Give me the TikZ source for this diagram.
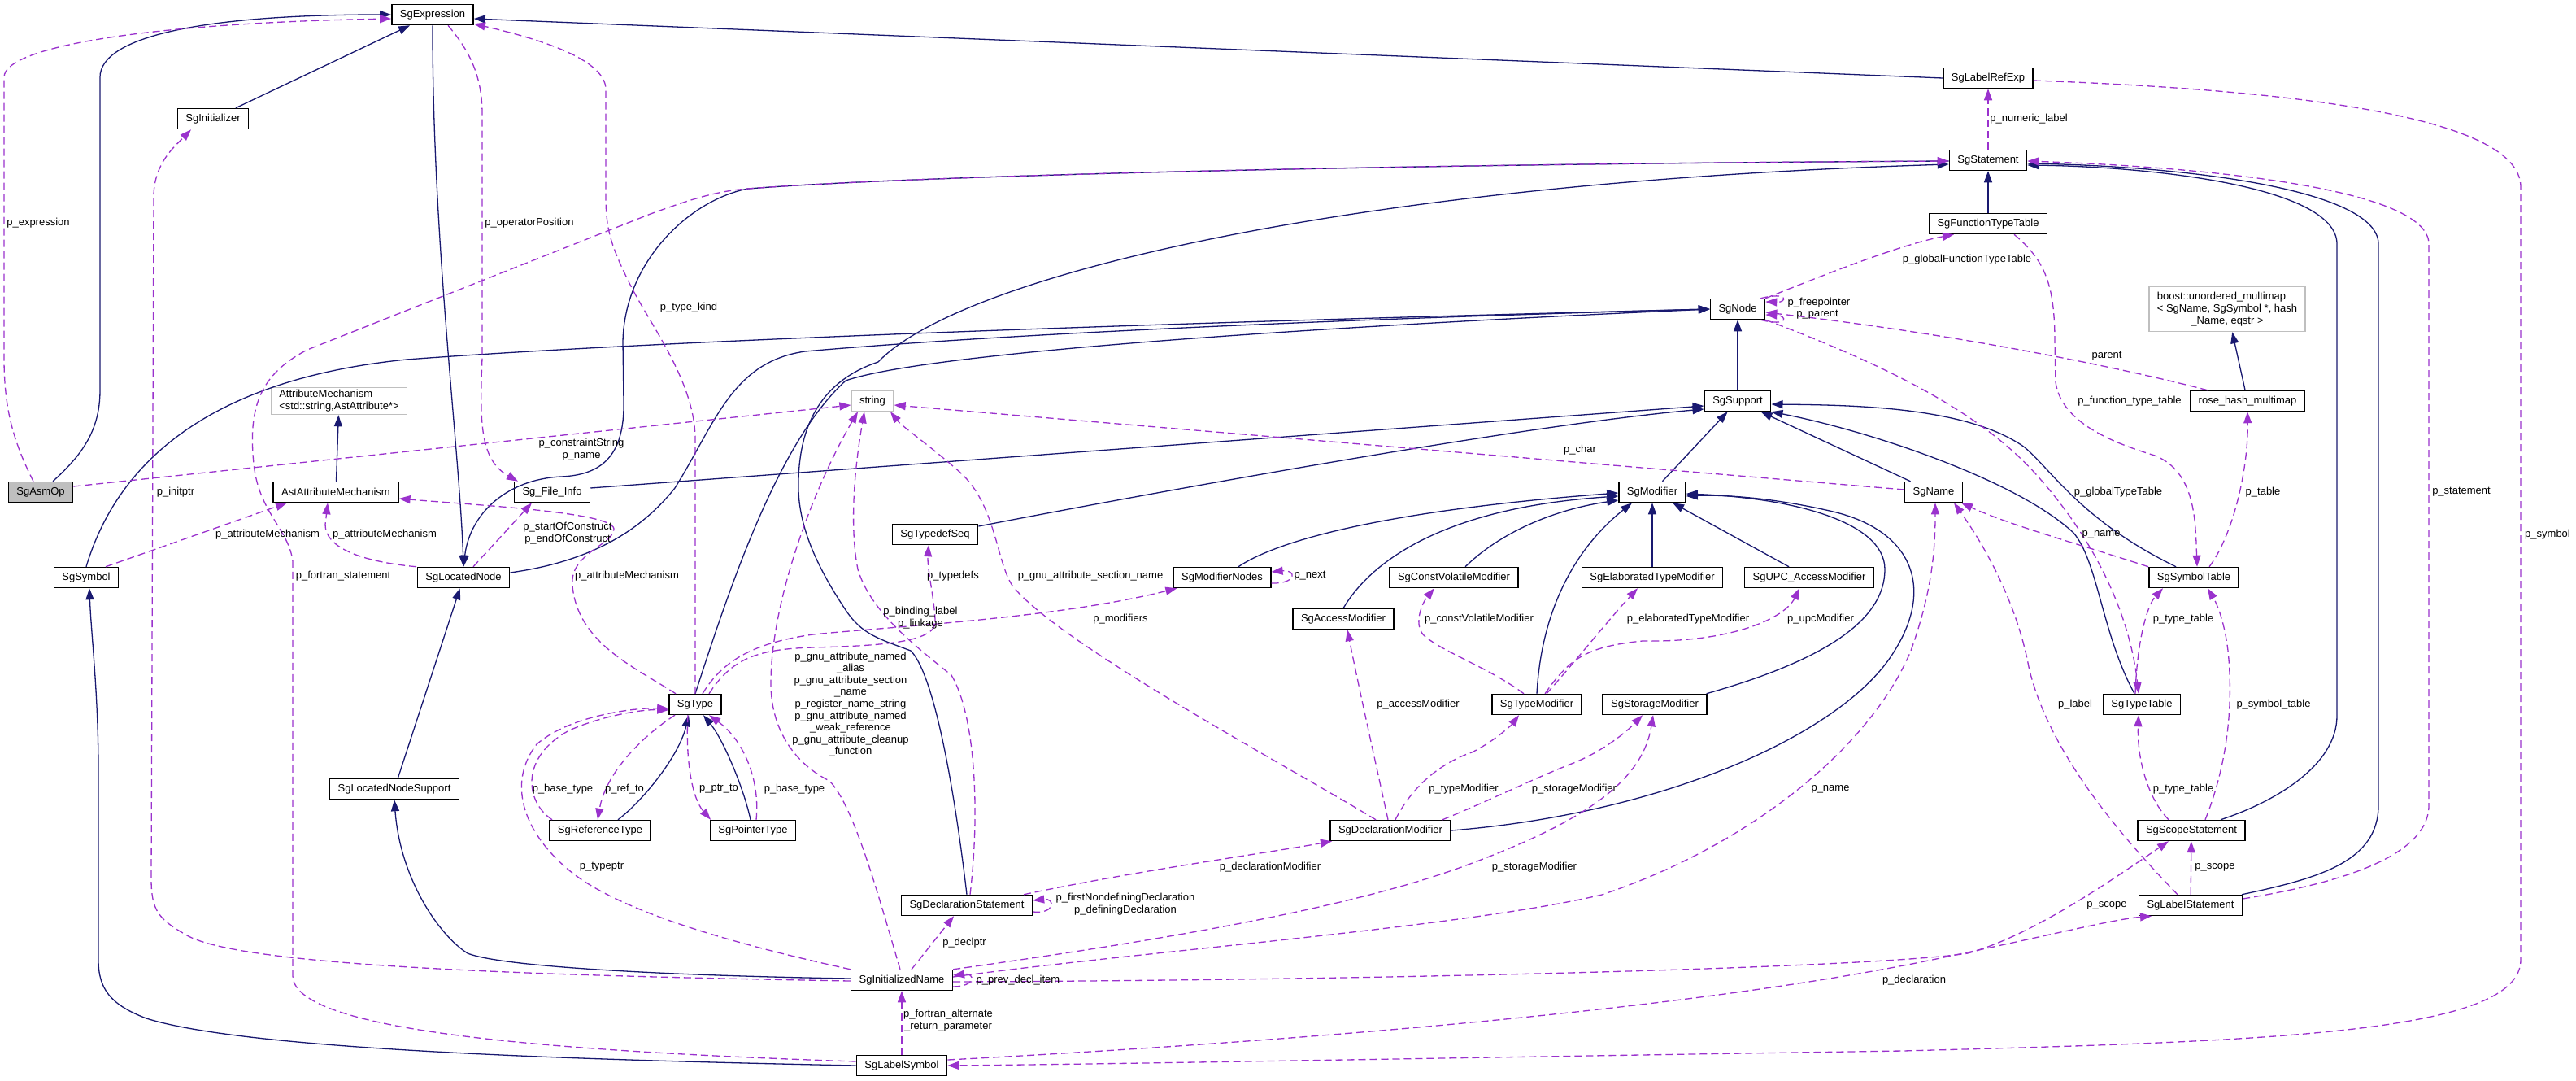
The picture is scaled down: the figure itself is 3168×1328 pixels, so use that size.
\documentclass[tikz,border=0pt]{standalone}
\usepackage{fontspec}
\setmainfont{Liberation Sans}
\definecolor{inhblue}{HTML}{191970}
\definecolor{usepurple}{HTML}{9A32CD}
\definecolor{extgrey}{HTML}{BFBFBF}
\usepackage{tikz}
\usetikzlibrary{
  arrows.meta,
}

\begin{document}
\begin{tikzpicture}[
  x=1pt, y=-1pt,
  box/.style={
    draw=black, line width=1.5pt, fill=white, minimum height=25pt,
    inner xsep=10pt, inner ysep=3pt, font=\fontsize{13}{15}\selectfont,
  },
  extbox/.style={
    box, draw=extgrey,
  },
  arrow/.style={
    -{Triangle[length=14pt,width=10pt]}, line width=1.3pt, color=inhblue,
  },
  userarrow/.style={
    -{Triangle[length=14pt,width=10pt]}, line width=1.3pt, color=usepurple,
    dash pattern=on 9pt off 5pt,
  },
  lbl/.style={
    font=\fontsize{13}{15}\selectfont, inner sep=0pt, align=center,
  },
]
  \path[use as bounding box, fill=white] (0,0) rectangle (3168,1328);

  % Top rows
  \node[box] (expr) at (532,18) {SgExpression};
  \node[box] (initer) at (262,146) {SgInitializer};
  \node[box] (labelref) at (2445,96) {SgLabelRefExp};
  \node[box] (stmt) at (2445,197) {SgStatement};
  \node[box] (fntable) at (2445,275) {SgFunctionTypeTable};
  \node[box] (sgnode) at (2137,380) {SgNode};
  \node[extbox, inner ysep=5pt] (boostmap) at (2739,380)
    {\begin{tabular}{@{}l@{}}boost::unordered\_multimap\\< SgName, SgSymbol *, hash\\\multicolumn{1}{@{}c@{}}{\_Name, eqstr >}\end{tabular}};
  \node[box] (rosehash) at (2764,493) {rose\_hash\_multimap};
  \node[box] (support) at (2137,493) {SgSupport};
  \node[extbox] (str) at (1073,493) {string};
  \node[extbox, align=left] (attrmech) at (417,493)
    {AttributeMechanism\\<std::string,AstAttribute*>};

  % Middle rows
  \node[box, fill=extgrey] (asmop) at (50,605) {SgAsmOp};
  \node[box] (astattr) at (413,605) {AstAttributeMechanism};
  \node[box] (fileinfo) at (679,605) {Sg\_File\_Info};
  \node[box] (sgname) at (2378,605) {SgName};
  \node[box] (modifier) at (2032,605) {SgModifier};
  \node[box] (typedefseq) at (1150,657) {SgTypedefSeq};
  \node[box] (symbol) at (106,710) {SgSymbol};
  \node[box] (locnode) at (570,710) {SgLocatedNode};
  \node[box] (modnodes) at (1503,710) {SgModifierNodes};
  \node[box] (cvmod) at (1788,710) {SgConstVolatileModifier};
  \node[box] (elabmod) at (2032,710) {SgElaboratedTypeModifier};
  \node[box] (upcmod) at (2225,710) {SgUPC\_AccessModifier};
  \node[box] (symtable) at (2698,710) {SgSymbolTable};
  \node[box] (accmod) at (1652,761) {SgAccessModifier};
  \node[box] (sgtype) at (855,866) {SgType};
  \node[box] (typemod) at (1890,866) {SgTypeModifier};
  \node[box] (stormod) at (2035,866) {SgStorageModifier};
  \node[box] (typetable) at (2634,866) {SgTypeTable};

  % Bottom rows
  \node[box] (locsupport) at (485,970) {SgLocatedNodeSupport};
  \node[box] (reftype) at (738,1021) {SgReferenceType};
  \node[box] (ptrtype) at (926,1021) {SgPointerType};
  \node[box] (declmod) at (1710,1021) {SgDeclarationModifier};
  \node[box] (scopestmt) at (2695,1021) {SgScopeStatement};
  \node[box] (declstmt) at (1189,1113) {SgDeclarationStatement};
  \node[box] (labelstmt) at (2694,1113) {SgLabelStatement};
  \node[box] (initname) at (1109,1205) {SgInitializedName};
  \node[box] (labelsym) at (1109,1310) {SgLabelSymbol};

  % Inheritance
  \draw[arrow] ([xshift=15pt]asmop.north) .. controls (100,560) and (123,530) .. (123,480)
    -- (123,95) .. controls (123,45) and (250,18) .. (expr.west);
  \draw[arrow] (initer) -- (expr);
  \draw[arrow] (labelref.west) -- ([yshift=-5pt]expr.east);
  \draw[arrow] (expr.south) .. controls (532,300) and (565,550) .. (locnode.north);
  \draw[arrow] ([yshift=-1pt]stmt.west) .. controls (1800,201) and (1150,214) .. (920,232)
    .. controls (850,245) and (768,320) .. (766,420) -- (767,495)
    .. controls (768,560) and (740,584) .. (690,586)
    .. controls (625,589) and (578,630) .. (locnode.north);
  \draw[arrow] (symbol.north) .. controls (135,600) and (220,470) .. (500,442)
    .. controls (900,412) and (1700,390) .. (sgnode.west);
  \draw[arrow] ([yshift=6pt]locnode.east) .. controls (730,690) and (790,650) .. (830,600)
    .. controls (880,520) and (900,445) .. (990,432)
    .. controls (1300,405) and (1800,388) .. (sgnode.west);
  \draw[arrow] (sgtype.north) .. controls (895,730) and (955,545) .. (1040,468)
    .. controls (1150,430) and (1700,398) .. (sgnode.west);
  \draw[arrow] (support) -- (sgnode);
  \draw[arrow] ([yshift=5pt]fileinfo.east) -- ([yshift=-6pt]support.west);
  \draw[arrow] ([yshift=10pt]typedefseq.east) .. controls (1500,590) and (1900,520) .. ([yshift=-10pt]support.west);
  \draw[arrow] (modifier) -- (support);
  \draw[arrow] (sgname) -- (support);
  \draw[arrow] ([xshift=-22pt]symtable.north) .. controls (2560,640) and (2525,580) .. (2490,550)
    .. controls (2420,500) and (2280,498) .. ([yshift=-4pt]support.east);
  \draw[arrow] ([xshift=-9pt]typetable.north) .. controls (2585,780) and (2580,690) .. (2550,655)
    .. controls (2480,590) and (2300,530) .. (support.south east);
  \draw[arrow] (fntable) -- (stmt);
  \draw[arrow] (declstmt.north) .. controls (1175,980) and (1150,830) .. (1120,800)
    .. controls (1080,785) and (1060,780) .. (1040,750)
    .. controls (1000,690) and (980,640) .. (982,590)
    .. controls (984,510) and (1020,465) .. (1080,445)
    .. controls (1180,340) and (1650,225) .. ([yshift=-5pt]stmt.west);
  \draw[arrow] ([xshift=20pt]modnodes.north) .. controls (1570,665) and (1700,628) .. ([yshift=-1pt]modifier.west);
  \draw[arrow] (accmod.north) .. controls (1680,700) and (1760,625) .. ([yshift=-5pt]modifier.west);
  \draw[arrow] ([xshift=14pt]cvmod.north) .. controls (1850,650) and (1920,625) .. ([yshift=-10pt]modifier.west);
  \draw[arrow] (typemod.north) .. controls (1895,760) and (1930,680) .. ([xshift=-25pt]modifier.south);
  \draw[arrow] (elabmod) -- (modifier);
  \draw[arrow] ([xshift=-25pt]upcmod.north) -- ([xshift=25pt]modifier.south);
  \draw[arrow] ([xshift=-1pt]stormod.north east) .. controls (2250,810) and (2318,760) .. (2318,700)
    .. controls (2318,640) and (2200,612) .. ([yshift=-2pt]modifier.east);
  \draw[arrow] (declmod.east) .. controls (2050,1000) and (2270,900) .. (2330,800)
    .. controls (2380,720) and (2350,650) .. (2250,628)
    .. controls (2180,612) and (2120,608) .. ([yshift=-5pt]modifier.east);
  \draw[arrow] ([xshift=36pt]scopestmt.north) .. controls (2800,985) and (2874,940) .. (2874,880)
    -- (2874,300) .. controls (2874,230) and (2650,205) .. ([yshift=-6pt]stmt.east);
  \draw[arrow] ([xshift=63pt]labelstmt.north) .. controls (2850,1080) and (2925,1060) .. (2925,990)
    -- (2925,300) .. controls (2925,235) and (2700,205) .. ([yshift=-4pt]stmt.east);
  \draw[arrow] (astattr) -- (attrmech);
  \draw[arrow] (rosehash) -- (boostmap);
  \draw[arrow] (locsupport) -- (locnode);
  \draw[arrow] ([yshift=2pt]initname.west) .. controls (850,1200) and (620,1190) .. (575,1172)
    .. controls (540,1150) and (492,1080) .. (locsupport.south);
  \draw[arrow] (labelsym.west) .. controls (700,1303) and (300,1290) .. (180,1252)
    .. controls (135,1235) and (121,1215) .. (121,1180) -- (121,950)
    .. controls (121,850) and (112,780) .. ([xshift=4pt]symbol.south);
  \draw[arrow] ([xshift=22pt]reftype.north) .. controls (790,985) and (835,930) .. ([xshift=-8pt]sgtype.south);
  \draw[arrow] ([xshift=-3pt]ptrtype.north) .. controls (915,970) and (890,910) .. ([xshift=10pt]sgtype.south);

  % Usage
  \draw[userarrow] ([xshift=-9pt]asmop.north) .. controls (15,540) and (5,500) .. (5,440)
    -- (5,95) .. controls (5,55) and (200,28) .. ([yshift=-5pt]expr.west);
  \draw[userarrow] ([xshift=19pt]expr.south) .. controls (575,60) and (593,90) .. (593,140)
    -- (593,440) .. controls (590,520) and (590,565) .. ([xshift=-42pt]fileinfo.north);
  \draw[userarrow] (sgtype.north) -- (855,540) .. controls (855,470) and (800,400) .. (775,350)
    .. controls (750,300) and (745,280) .. (745,240) -- (745,110)
    .. controls (745,70) and (650,45) .. ([yshift=2pt]expr.south east);
  \draw[userarrow] ([yshift=7pt]asmop.east) -- ([yshift=-5pt]str.west);
  \draw[userarrow] ([xshift=12pt]locnode.north) -- ([xshift=-25pt]fileinfo.south);
  \draw[userarrow] ([xshift=24pt]symbol.north) -- ([xshift=-60pt]astattr.south);
  \draw[userarrow] ([xshift=-58pt]locnode.north) .. controls (440,690) and (400,672) .. (400,645)
    -- ([xshift=-10pt]astattr.south);
  \draw[userarrow] ([xshift=-24pt]sgtype.north) .. controls (780,820) and (710,790) .. (704,720)
    .. controls (700,680) and (755,670) .. (755,650)
    .. controls (752,630) and (600,622) .. ([yshift=-8pt]astattr.east);
  \draw[userarrow] ([yshift=-1pt]initname.west) .. controls (700,1200) and (300,1190) .. (230,1150)
    .. controls (195,1130) and (186,1120) .. (186,1080) -- (189,240)
    .. controls (190,200) and (215,180) .. ([xshift=-27pt]initer.south);
  \draw[userarrow] ([yshift=5pt]labelsym.west) .. controls (600,1290) and (362,1260) .. (360,1200)
    -- (360,690) .. controls (355,650) and (318,630) .. (312,570)
    .. controls (305,500) and (320,460) .. (378,430) -- (800,263)
    .. controls (850,245) and (880,235) .. (920,232)
    .. controls (1150,214) and (1800,201) .. ([yshift=-1pt]stmt.west);
  \draw[userarrow] ([yshift=-3pt]labelref.east) .. controls (2800,110) and (3100,140) .. (3100,230)
    -- (3100,1180) .. controls (3100,1270) and (2800,1280) .. (2340,1292)
    .. controls (1800,1300) and (1400,1308) .. (labelsym.east);
  \draw[userarrow] (stmt) -- (labelref);
  \draw[userarrow] (sgnode.north east) .. controls (2250,335) and (2340,300) .. ([xshift=-42pt]fntable.south);
  \draw[userarrow] ([xshift=-6pt]sgnode.north east) .. controls (2200,358) and (2198,372) .. ([yshift=9pt]sgnode.east);
  \draw[userarrow] ([xshift=-6pt]sgnode.south east) .. controls (2200,402) and (2198,388) .. ([yshift=-7pt]sgnode.east);
  \draw[userarrow] ([xshift=-49pt]rosehash.north) .. controls (2600,450) and (2400,410) .. ([yshift=-4pt]sgnode.east);
  \draw[userarrow] (sgnode.south east) .. controls (2350,460) and (2450,520) .. (2510,590)
    .. controls (2580,670) and (2620,760) .. ([xshift=-4pt]typetable.north);
  \draw[userarrow] ([xshift=32pt]fntable.south) .. controls (2515,320) and (2527,350) .. (2527,420)
    -- (2528,470) .. controls (2535,520) and (2600,545) .. (2650,560)
    .. controls (2700,580) and (2700,640) .. ([xshift=4pt]symtable.north);
  \draw[userarrow] ([xshift=19pt]symtable.north) .. controls (2745,660) and (2765,580) .. (rosehash.south);
  \draw[userarrow] ([xshift=-56pt]symtable.north) .. controls (2560,670) and (2470,645) .. ([xshift=34pt]sgname.south);
  \draw[userarrow] ([xshift=-8pt]typetable.north) .. controls (2628,790) and (2640,745) .. ([xshift=-38pt]symtable.south);
  \draw[userarrow] ([xshift=-28pt]scopestmt.north) .. controls (2640,980) and (2628,930) .. ([xshift=-4pt]typetable.south);
  \draw[userarrow] ([xshift=17pt]scopestmt.north) .. controls (2735,950) and (2748,880) .. (2740,800)
    .. controls (2735,760) and (2725,740) .. ([xshift=17pt]symtable.south);
  \draw[userarrow] (labelstmt) -- (scopestmt);
  \draw[userarrow] ([xshift=-16pt]labelstmt.north) .. controls (2620,1040) and (2520,930) .. (2495,820)
    .. controls (2480,740) and (2440,670) .. ([xshift=25pt]sgname.south);
  \draw[userarrow] ([yshift=8pt]labelstmt.east) .. controls (2850,1090) and (2987,1060) .. (2987,990)
    -- (2987,300) .. controls (2987,230) and (2700,205) .. ([yshift=-1pt]stmt.east);
  \draw[userarrow] ([yshift=3pt]sgname.west) -- ([yshift=-5pt]str.east);
  \draw[userarrow] ([xshift=-18pt]declmod.north) .. controls (1580,940) and (1300,790) .. (1245,720)
    .. controls (1225,690) and (1225,620) .. (1180,580)
    .. controls (1140,545) and (1110,525) .. ([xshift=22pt]str.south);
  \draw[userarrow] ([xshift=9pt]sgtype.north) .. controls (890,810) and (930,790) .. (1000,780)
    .. controls (1100,770) and (1300,760) .. ([xshift=5pt]modnodes.south west);
  \draw[userarrow] ([xshift=17pt]sgtype.north) .. controls (900,810) and (930,798) .. (1000,796)
    .. controls (1080,794) and (1150,790) .. (1150,765)
    .. controls (1150,740) and (1140,700) .. ([xshift=-8pt]typedefseq.south);
  \draw[userarrow] ([yshift=-7pt]modnodes.east) .. controls (1595,718) and (1595,700) .. ([yshift=7pt]modnodes.east);
  \draw[userarrow] ([xshift=4pt]declstmt.north) .. controls (1205,1000) and (1200,880) .. (1170,830)
    .. controls (1120,790) and (1070,750) .. (1055,700)
    .. controls (1045,650) and (1050,580) .. ([xshift=-10pt]str.south);
  \draw[userarrow] ([xshift=-2pt]initname.north) .. controls (1080,1100) and (1050,990) .. (1020,960)
    .. controls (980,940) and (948,900) .. (948,840)
    .. controls (948,740) and (1000,600) .. ([xshift=-18pt]str.south);
  \draw[userarrow] ([xshift=-59pt]reftype.north) .. controls (645,985) and (640,930) .. (700,898)
    .. controls (740,880) and (790,872) .. ([yshift=-7pt]sgtype.west);
  \draw[userarrow] ([xshift=-25pt]sgtype.south) .. controls (790,905) and (745,950) .. ([xshift=-3pt]reftype.north);
  \draw[userarrow] (initname.north west) .. controls (900,1160) and (760,1120) .. (700,1070)
    .. controls (640,1020) and (625,960) .. (660,915)
    .. controls (700,880) and (780,870) .. ([yshift=-5pt]sgtype.west);
  \draw[userarrow] ([xshift=-9pt]sgtype.south) .. controls (843,930) and (850,980) .. ([xshift=-52pt]ptrtype.north);
  \draw[userarrow] ([xshift=4pt]ptrtype.north) .. controls (935,960) and (915,910) .. ([xshift=17pt]sgtype.south);
  \draw[userarrow] ([xshift=12pt]initname.north) -- ([xshift=-16pt]declstmt.south);
  \draw[userarrow] ([yshift=-8pt]declstmt.east) .. controls (1298,1124) and (1298,1104) .. ([yshift=6pt]declstmt.east);
  \draw[userarrow] ([xshift=70pt]declstmt.north) .. controls (1400,1070) and (1550,1050) .. ([xshift=-72pt]declmod.south);
  \draw[userarrow] ([xshift=-3pt]declmod.north) .. controls (1690,930) and (1670,840) .. ([xshift=5pt]accmod.south);
  \draw[userarrow] ([xshift=6pt]declmod.north) .. controls (1740,960) and (1780,935) .. (1810,925)
    .. controls (1840,910) and (1860,890) .. ([xshift=-22pt]typemod.south);
  \draw[userarrow] ([xshift=64pt]declmod.north) .. controls (1830,985) and (1880,960) .. (1930,940)
    .. controls (1970,925) and (2000,900) .. ([xshift=-15pt]stormod.south);
  \draw[userarrow] (initname.north east) .. controls (1400,1160) and (1650,1120) .. (1800,1065)
    .. controls (1950,1010) and (2020,960) .. ([xshift=-2pt]stormod.south);
  \draw[userarrow] ([yshift=4pt]initname.east) .. controls (1400,1170) and (1800,1140) .. (1970,1100)
    .. controls (2150,1040) and (2300,920) .. (2350,800)
    .. controls (2375,730) and (2380,680) .. ([xshift=2pt]sgname.south);
  \draw[userarrow] ([yshift=-8pt]initname.east) .. controls (1200,1213) and (1200,1196) .. ([yshift=6pt]initname.east);
  \draw[userarrow] ([yshift=-2pt]initname.east) .. controls (1700,1205) and (2300,1190) .. (2420,1172)
    .. controls (2500,1150) and (2600,1080) .. ([xshift=-28pt]scopestmt.south);
  \draw[userarrow] (labelsym) -- (initname);
  \draw[userarrow] ([yshift=7pt]labelsym.east) .. controls (1600,1280) and (2100,1240) .. (2400,1175)
    .. controls (2520,1150) and (2600,1130) .. ([xshift=-48pt]labelstmt.south);
  \draw[userarrow] ([xshift=-16pt]typemod.north) .. controls (1830,820) and (1770,800) .. (1750,780)
    .. controls (1738,765) and (1750,740) .. ([xshift=-24pt]cvmod.south);
  \draw[userarrow] ([xshift=12pt]typemod.north) .. controls (1940,810) and (1980,760) .. ([xshift=-18pt]elabmod.south);
  \draw[userarrow] ([xshift=10pt]typemod.north) .. controls (1930,810) and (1950,795) .. (2020,788)
    .. controls (2130,790) and (2195,760) .. ([xshift=-12pt]upcmod.south);

  % Labels
  \node[lbl] (l1) at (47,274) {p\_expression};
  \node[lbl] (l2) at (651,274) {p\_operatorPosition};
  \node[lbl] (l3) at (847,378) {p\_type\_kind};
  \node[lbl] (l4) at (2495,146) {p\_numeric\_label};
  \node[lbl] (l5) at (2419,319) {p\_globalFunctionTypeTable};
  \node[lbl] (l6) at (2237,372) {p\_freepointer};
  \node[lbl] (l7) at (2235,387) {p\_parent};
  \node[lbl] (l8) at (2591,438) {parent};
  \node[lbl] (l9) at (2619,493) {p\_function\_type\_table};
  \node[lbl] (l10) at (2605,605) {p\_globalTypeTable};
  \node[lbl] (l11) at (2783,605) {p\_table};
  \node[lbl] (l12) at (3027,605) {p\_statement};
  \node[lbl] (l13) at (3133,657) {p\_symbol};
  \node[lbl] (l14) at (2584,657) {p\_name};
  \node[lbl] (l15) at (2685,761) {p\_type\_table};
  \node[lbl] (l16) at (2552,866) {p\_label};
  \node[lbl] (l17) at (2796,866) {p\_symbol\_table};
  \node[lbl] (l18) at (2685,970) {p\_type\_table};
  \node[lbl] (l19) at (2724,1066) {p\_scope};
  \node[lbl] (l20) at (2591,1113) {p\_scope};
  \node[lbl] (l21) at (2354,1205) {p\_declaration};
  \node[lbl] (l22) at (1943,553) {p\_char};
  \node[lbl] (l23) at (715,553) {p\_constraintString\\p\_name};
  \node[lbl] (l24) at (216,605) {p\_initptr};
  \node[lbl] (l25) at (329,657) {p\_attributeMechanism};
  \node[lbl] (l26) at (473,657) {p\_attributeMechanism};
  \node[lbl] (l27) at (698,656) {p\_startOfConstruct\\p\_endOfConstruct};
  \node[lbl] (l28) at (422,708) {p\_fortran\_statement};
  \node[lbl] (l29) at (771,708) {p\_attributeMechanism};
  \node[lbl] (l30) at (1172,708) {p\_typedefs};
  \node[lbl] (l31) at (1341,708) {p\_gnu\_attribute\_section\_name};
  \node[lbl] (l32) at (1378,761) {p\_modifiers};
  \node[lbl] (l33) at (1132,760) {p\_binding\_label\\p\_linkage};
  \node[lbl, font=\fontsize{13}{14.6}\selectfont] (l34) at (1046,866)
    {p\_gnu\_attribute\_named\\\_alias\\p\_gnu\_attribute\_section\\\_name\\p\_register\_name\_string\\p\_gnu\_attribute\_named\\\_weak\_reference\\p\_gnu\_attribute\_cleanup\\\_function};
  \node[lbl] (l35) at (1611,708) {p\_next};
  \node[lbl] (l36) at (1819,761) {p\_constVolatileModifier};
  \node[lbl] (l37) at (2076,761) {p\_elaboratedTypeModifier};
  \node[lbl] (l38) at (2239,761) {p\_upcModifier};
  \node[lbl] (l39) at (1744,866) {p\_accessModifier};
  \node[lbl] (l40) at (1800,970) {p\_typeModifier};
  \node[lbl] (l41) at (1936,970) {p\_storageModifier};
  \node[lbl] (l42) at (2251,970) {p\_name};
  \node[lbl] (l43) at (1887,1066) {p\_storageModifier};
  \node[lbl] (l44) at (1562,1066) {p\_declarationModifier};
  \node[lbl] (l45) at (1384,1112) {p\_firstNondefiningDeclaration\\p\_definingDeclaration};
  \node[lbl] (l46) at (1186,1159) {p\_declptr};
  \node[lbl] (l47) at (1252,1205) {p\_prev\_decl\_item};
  \node[lbl] (l48) at (1166,1255) {p\_fortran\_alternate\\\_return\_parameter};
  \node[lbl] (l49) at (740,1066) {p\_typeptr};
  \node[lbl] (l50) at (692,970) {p\_base\_type};
  \node[lbl] (l51) at (768,970) {p\_ref\_to};
  \node[lbl] (l52) at (884,970) {p\_ptr\_to};
  \node[lbl] (l53) at (977,970) {p\_base\_type};
\end{tikzpicture}
\end{document}
